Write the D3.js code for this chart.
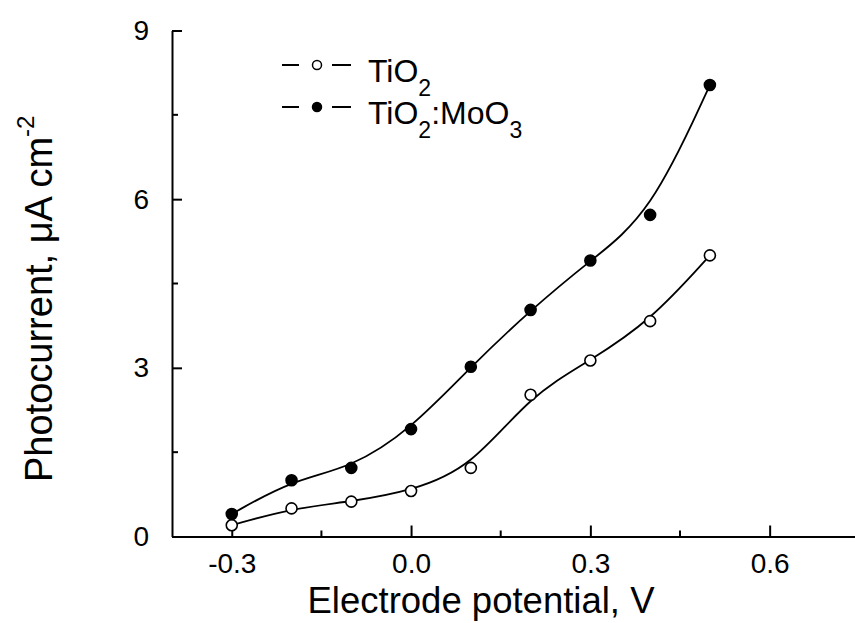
<!DOCTYPE html>
<html>
<head>
<meta charset="utf-8">
<script src="https://cdn.jsdelivr.net/npm/d3@7"></script>
<style>
  body { margin: 0; background: #fff; }
  svg { display: block; font-family: 'Liberation Sans', Arial, sans-serif; }
</style>
</head>
<body>
<div class="chart"></div>
<script>
// data
var potential = [-0.3, -0.2, -0.1, 0.0, 0.1, 0.2, 0.3, 0.4, 0.5];
var tio2 = [0.2, 0.5, 0.62, 0.81, 1.22, 2.52, 3.13, 3.83, 5.0];
var tio2moo3 = [0.4, 1.0, 1.22, 1.91, 3.02, 4.03, 4.91, 5.72, 8.03];
var xTicks = [-0.3, 0.0, 0.3, 0.6];
var xMinor = [-0.15, 0.15, 0.45];
var yTicks = [0, 3, 6, 9];
var yMinor = [1.5, 4.5, 7.5];

var width = 855;
var height = 623;

var svg = d3.select('.chart')
  .append('svg')
    .attr('width', width)
    .attr('height', height);

var xScale = d3.scaleLinear()
  .domain([-0.4, 0.75])
  .range([172, 859.3]);

var yScale = d3.scaleLinear()
  .domain([0, 9])
  .range([536.5, 30.5]);

// x axis, ticks point inward
var xAxis = svg.append('g')
  .attr('transform', 'translate(0, ' + yScale(0) + ')')
  .call(d3.axisBottom(xScale)
    .tickValues(xTicks)
    .tickSizeInner(-11)
    .tickSizeOuter(0)
    .tickPadding(17)
    .tickFormat(d3.format('.1f')));
xAxis.select('.domain').attr('stroke-width', 2);
xAxis.selectAll('.tick line').attr('stroke-width', 2);
xAxis.selectAll('.tick text')
  .attr('font-size', 28)
  .attr('font-family', null)
  .attr('fill', '#000')
  .text(d => d3.format('.1f')(d).replace('−', '-'));
xAxis.selectAll('.minor')
  .data(xMinor)
  .enter()
  .append('line')
    .attr('x1', d => xScale(d))
    .attr('x2', d => xScale(d))
    .attr('y1', 0)
    .attr('y2', -6)
    .attr('stroke', '#000')
    .attr('stroke-width', 2);

// y axis
var yAxis = svg.append('g')
  .attr('transform', 'translate(' + xScale(-0.4) + ', 0)')
  .call(d3.axisLeft(yScale)
    .tickValues(yTicks)
    .tickSizeInner(-10)
    .tickSizeOuter(0)
    .tickPadding(23)
    .tickFormat(d3.format('d')));
yAxis.select('.domain').attr('stroke-width', 2);
yAxis.selectAll('.tick line').attr('stroke-width', 2);
yAxis.selectAll('.tick text')
  .attr('font-size', 28)
  .attr('font-family', null)
  .attr('fill', '#000');
yAxis.selectAll('.minor')
  .data(yMinor)
  .enter()
  .append('line')
    .attr('y1', d => yScale(d))
    .attr('y2', d => yScale(d))
    .attr('x1', 0)
    .attr('x2', 6)
    .attr('stroke', '#000')
    .attr('stroke-width', 2);

// series
var series = [
  { name: 'TiO2', values: tio2, fill: '#fff' },
  { name: 'TiO2:MoO3', values: tio2moo3, fill: '#000' }
];

var line = d3.line()
  .x((d, i) => xScale(potential[i]))
  .y(d => yScale(d))
  .curve(d3.curveBasis);

series.forEach(function (s) {
  svg.append('path')
    .attr('d', line(s.values))
    .attr('fill', 'none')
    .attr('stroke', '#000')
    .attr('stroke-width', 1.8);

  svg.append('g')
    .selectAll('circle')
    .data(s.values)
    .enter()
    .append('circle')
      .attr('cx', (d, i) => xScale(potential[i]))
      .attr('cy', d => yScale(d))
      .attr('r', 5.5)
      .attr('fill', s.fill)
      .attr('stroke', '#000')
      .attr('stroke-width', 1.6);
});

// legend
var legend = svg.append('g');
series.forEach(function (s, i) {
  var y = 65 + i * 42;
  legend.append('line')
    .attr('x1', 282).attr('x2', 299)
    .attr('y1', y).attr('y2', y)
    .attr('stroke', '#000').attr('stroke-width', 2);
  legend.append('line')
    .attr('x1', 332).attr('x2', 351)
    .attr('y1', y).attr('y2', y)
    .attr('stroke', '#000').attr('stroke-width', 2);
  legend.append('circle')
    .attr('cx', 317).attr('cy', y)
    .attr('r', 4.5)
    .attr('fill', s.fill)
    .attr('stroke', '#000')
    .attr('stroke-width', 1.5);

  var t = legend.append('text')
    .attr('x', 368)
    .attr('y', y + 17)
    .attr('font-size', 32);
  // split into plain parts and subscript digits
  s.name.split(/(\d)/).forEach(function (part, j) {
    if (!part) return;
    if (j % 2 === 1) {
      t.append('tspan').attr('font-size', 23).attr('dy', 14).text(part);
    } else {
      t.append('tspan').attr('dy', j > 0 ? -14 : 0).text(part);
    }
  });
});

// axis titles
svg.append('text')
  .attr('x', 481)
  .attr('y', 613)
  .attr('text-anchor', 'middle')
  .attr('font-size', 36.5)
  .text('Electrode potential, V');

var yTitle = svg.append('text')
  .attr('transform', 'translate(52, 482) rotate(-90)')
  .attr('font-size', 38);
yTitle.append('tspan').text('Photocurrent, \u03bcA cm');
yTitle.append('tspan').attr('font-size', 24).attr('dy', -18).text('-2');
</script>
</body>
</html>
